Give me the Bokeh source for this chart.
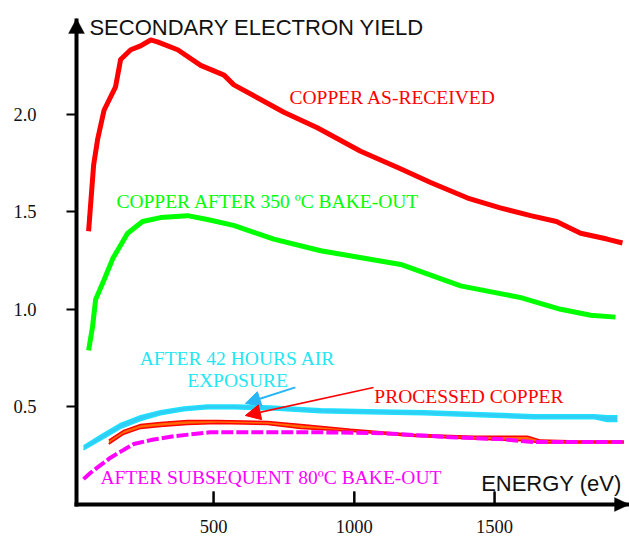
from bokeh.plotting import figure
from bokeh.models import Range1d, FixedTicker, Label, Arrow, NormalHead, PolyAnnotation, LinearAxis
from bokeh.embed import file_html
from bokeh.resources import INLINE

# ---- data ----
E_asrec = [55, 73, 87, 110, 151, 169, 205, 240, 276, 300, 372, 454, 537, 572, 750, 869,
           1023, 1165, 1272, 1404, 1520, 1628, 1720, 1806, 1900, 1955]
Y_asrec = [1.40, 1.74, 1.87, 2.02, 2.14, 2.28, 2.33, 2.35, 2.38, 2.37, 2.33, 2.25, 2.20, 2.15, 2.01, 1.93,
           1.81, 1.72, 1.65, 1.57, 1.52, 1.48, 1.45, 1.39, 1.36, 1.34]

E_bake350 = [55, 69, 80, 110, 141, 194, 247, 311, 407, 478, 571, 714, 881, 1166, 1379, 1593, 1735, 1842, 1930]
Y_bake350 = [0.79, 0.91, 1.05, 1.15, 1.26, 1.39, 1.45, 1.47, 1.48, 1.46, 1.43, 1.36, 1.30, 1.23, 1.12, 1.06,
             1.00, 0.97, 0.96]

E_air = [37, 98, 169, 240, 311, 394, 478, 572, 700, 881, 1050, 1248, 1450, 1640, 1760, 1853, 1900, 1937]
Y_air_hi = [0.30, 0.355, 0.415, 0.455, 0.48, 0.50, 0.51, 0.51, 0.505, 0.49, 0.485, 0.48, 0.47, 0.46,
            0.46, 0.46, 0.455, 0.455]
Y_air_lo = [0.28, 0.33, 0.39, 0.43, 0.46, 0.48, 0.49, 0.49, 0.485, 0.47, 0.465, 0.46, 0.45, 0.44,
            0.44, 0.44, 0.425, 0.425]

E_proc = [127, 180, 240, 311, 407, 514, 692, 810, 987, 1201, 1425, 1617, 1663, 1800, 1960]
Y_proc_hi = [0.33, 0.38, 0.41, 0.42, 0.43, 0.43, 0.425, 0.41, 0.385, 0.36, 0.35, 0.35, 0.33, 0.325, 0.325]
Y_proc_lo = [0.31, 0.36, 0.39, 0.40, 0.41, 0.415, 0.41, 0.39, 0.375, 0.35, 0.335, 0.325, 0.315, 0.315, 0.315]

E_bake80 = [37, 60, 87, 133, 180, 216, 276, 358, 489, 700, 881, 1105, 1343, 1521, 1640, 1853, 1955]
Y_bake80 = [0.13, 0.16, 0.19, 0.24, 0.28, 0.31, 0.33, 0.35, 0.37, 0.37, 0.37, 0.365, 0.345, 0.335, 0.32,
            0.32, 0.32]

y_ticks = [0.5, 1.0, 1.5, 2.0]
x_ticks = [500, 1000, 1500]

RED = "#ff0000"
GREEN = "#00ff00"
CYAN_TXT = "#22e6f2"
CYAN_FILL = "#33ccf5"
CYAN_LINE = "#1ee0ff"
ORANGE = "#ff6a00"
MAGENTA = "#ff00ff"
SERIF = "Liberation Serif"
SANS = "Liberation Sans"

# axis crossing point and axis ends (data units)
AX_X, AX_Y = 12, 0.0
X_END, Y_END = 1980, 2.49

p = figure(width=629, height=542, output_backend="svg", toolbar_location=None,
           x_range=Range1d(-23.6, 1980), y_range=Range1d(-0.0512, 2.531),
           min_border_left=66, min_border_right=0, min_border_top=10, min_border_bottom=28)
p.outline_line_color = None
p.grid.visible = False
p.background_fill_color = "white"

# default axes: tick labels only (at the frame edges)
for ax in (p.xaxis, p.yaxis):
    ax.axis_line_color = None
    ax.major_tick_line_color = None
    ax.minor_tick_line_color = None
    ax.major_tick_in = 0
    ax.major_tick_out = 0
    ax.major_label_text_font = SERIF
    ax.major_label_text_font_size = "18.5px"
    ax.major_label_text_color = "#111111"
p.xaxis.ticker = FixedTicker(ticks=x_ticks)
p.xaxis.major_label_standoff = 5
p.yaxis.ticker = FixedTicker(ticks=y_ticks)
p.yaxis.major_label_standoff = 30
p.yaxis.major_label_overrides = {t: f"{t:.1f}" for t in y_ticks}

# axis lines and tick marks crossing at the origin
x_rule = LinearAxis(fixed_location=AX_Y, bounds=(5, X_END), ticker=FixedTicker(ticks=x_ticks),
                    axis_line_width=4, axis_line_color="black",
                    major_tick_line_width=2, major_tick_line_color="black",
                    major_tick_in=0, major_tick_out=13, minor_tick_line_color=None,
                    major_label_overrides={t: "" for t in x_ticks})
y_rule = LinearAxis(fixed_location=AX_X, bounds=(-0.01, Y_END), ticker=FixedTicker(ticks=y_ticks),
                    axis_line_width=4, axis_line_color="black",
                    major_tick_line_width=2, major_tick_line_color="black",
                    major_tick_in=0, major_tick_out=12, minor_tick_line_color=None,
                    major_label_overrides={t: "" for t in y_ticks})
p.add_layout(x_rule, "above")
p.add_layout(y_rule, "left")

kx, ky = 0.281, 195.2   # px per data unit

# upward tick marks on the x axis
p.segment(x0=x_ticks, y0=[AX_Y] * len(x_ticks), x1=x_ticks, y1=[AX_Y + 13 / ky] * len(x_ticks),
          line_color="black", line_width=2)

# ---- curves ----
p.line(E_asrec, Y_asrec, line_color=RED, line_width=5, line_join="round")
p.line(E_bake350, Y_bake350, line_color=GREEN, line_width=5, line_join="round")

p.varea(x=E_proc, y1=Y_proc_lo, y2=Y_proc_hi, fill_color=ORANGE)
p.line(E_proc, Y_proc_hi, line_color=RED, line_width=1.5)
p.line(E_proc, Y_proc_lo, line_color=RED, line_width=1.5)

p.line(E_bake80, Y_bake80, line_color=MAGENTA, line_width=4, line_dash="12 3")

p.varea(x=E_air, y1=Y_air_lo, y2=Y_air_hi, fill_color=CYAN_FILL)
p.line(E_air, Y_air_hi, line_color=CYAN_LINE, line_width=1.5)
p.line(E_air, Y_air_lo, line_color=CYAN_LINE, line_width=1.5)

# ---- axis arrow heads ----
p.add_layout(PolyAnnotation(xs=[AX_X, AX_X - 8 / kx, AX_X + 8 / kx],
                            ys=[Y_END, Y_END - 15 / ky, Y_END - 15 / ky],
                            fill_color="black", fill_alpha=1, line_color="black", line_width=1))
p.add_layout(PolyAnnotation(xs=[X_END, X_END - 15 / kx, X_END - 15 / kx],
                            ys=[AX_Y, AX_Y + 7 / ky, AX_Y - 7 / ky],
                            fill_color="black", fill_alpha=1, line_color="black", line_width=1))

# ---- texts ----
def lab(x, y, t, color, font, size, align="left"):
    p.add_layout(Label(x=x, y=y, text=t, text_color=color, text_font=font, text_font_size=size,
                       text_align=align, text_baseline="alphabetic"))

lab(58, 2.446, "SECONDARY ELECTRON YIELD", "#111111", SANS, "22px")
lab(1452, 0.108, "ENERGY (eV)", "#111111", SANS, "22px")
lab(770, 2.087, "COPPER AS-RECEIVED", RED, SERIF, "19.5px")
lab(154, 1.554, "COPPER AFTER 350 \u00baC BAKE-OUT", GREEN, SERIF, "19.5px")
lab(585, 0.749, "AFTER 42 HOURS AIR", CYAN_TXT, SERIF, "19.5px", "center")
lab(585, 0.636, "EXPOSURE", CYAN_TXT, SERIF, "19.5px", "center")
lab(1072, 0.554, "PROCESSED COPPER", RED, SERIF, "19.5px")
lab(97, 0.138, "AFTER SUBSEQUENT 80\u00baC BAKE-OUT", MAGENTA, SERIF, "19.5px")

# ---- pointer arrows ----
p.add_layout(Arrow(x_start=791, y_start=0.60, x_end=613, y_end=0.518, line_width=2, line_color="#29b6f6",
                   end=NormalHead(size=15, fill_color="#29b6f6", line_color="#29b6f6")))
p.add_layout(Arrow(x_start=1069, y_start=0.60, x_end=613, y_end=0.456, line_width=1.5, line_color=RED,
                   end=NormalHead(size=15, fill_color=RED, line_color=RED)))

open("out.html", "w").write(file_html(p, INLINE))
